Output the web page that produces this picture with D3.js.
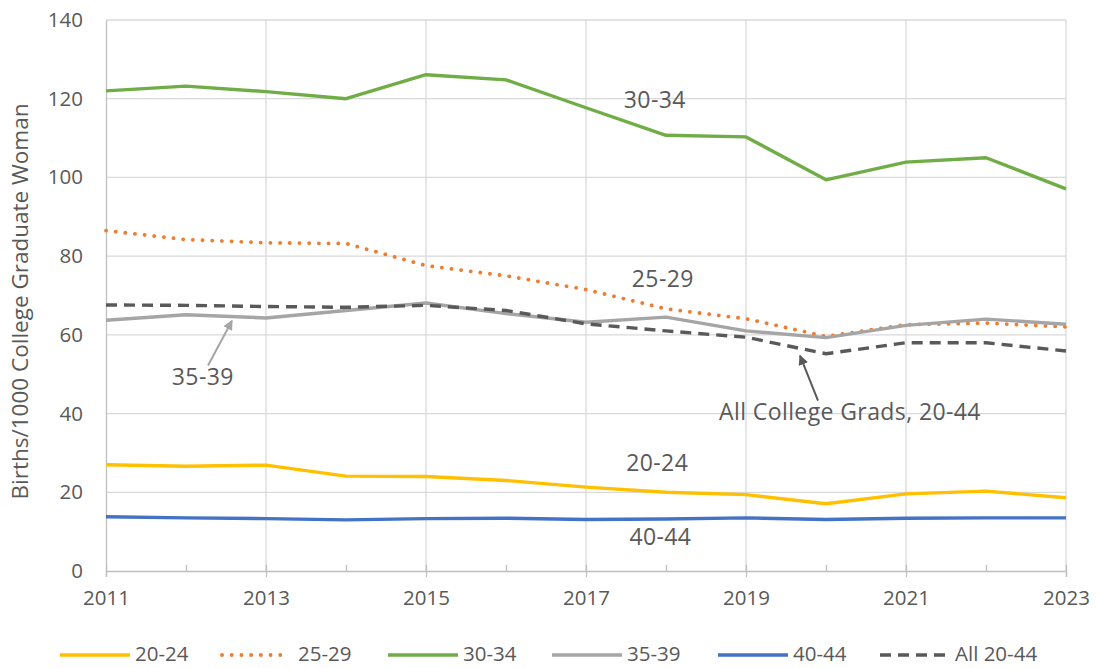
<!DOCTYPE html>
<html>
<head>
<meta charset="utf-8">
<script src="https://cdn.jsdelivr.net/npm/d3@7/dist/d3.min.js"></script>
<style>
  body { margin: 0; background: #fff; }
  text { font-family: "Open Sans", Roboto, sans-serif; fill: #595959; }
</style>
</head>
<body>
<svg id="chart" width="1097" height="668"></svg>
<script>
// data
const years = [2011, 2012, 2013, 2014, 2015, 2016, 2017, 2018, 2019, 2020, 2021, 2022, 2023]
const age2024 = [27.0, 26.6, 26.9, 24.1, 24.0, 23.0, 21.3, 20.0, 19.4, 17.1, 19.6, 20.3, 18.6]
const age2529 = [86.5, 84.2, 83.4, 83.2, 77.6, 75.0, 71.5, 66.6, 64.1, 59.6, 62.6, 63.0, 62.0]
const age3034 = [122.0, 123.2, 121.8, 120.0, 126.1, 124.8, 117.7, 110.7, 110.3, 99.4, 103.9, 105.0, 97.1]
const age3539 = [63.7, 65.1, 64.3, 66.2, 68.1, 65.4, 63.2, 64.5, 61.0, 59.3, 62.4, 64.0, 62.7]
const age4044 = [13.8, 13.5, 13.3, 13.0, 13.3, 13.4, 13.1, 13.2, 13.5, 13.1, 13.4, 13.5, 13.5]
const all2044 = [67.6, 67.5, 67.2, 67.0, 67.5, 66.2, 62.8, 61.0, 59.4, 55.2, 58.0, 58.0, 55.9]
const yTicks = [0, 20, 40, 60, 80, 100, 120, 140]
const xLabelYears = [2011, 2013, 2015, 2017, 2019, 2021, 2023]

const DOT = "0.1 9.6"
const series = [
  {name: "20-24", values: age2024, color: "#FFC000", dash: null},
  {name: "25-29", values: age2529, color: "#ED7D31", dash: DOT},
  {name: "30-34", values: age3034, color: "#70AD47", dash: null},
  {name: "35-39", values: age3539, color: "#A5A5A5", dash: null},
  {name: "40-44", values: age4044, color: "#4472C4", dash: null},
  {name: "All 20-44", values: all2044, color: "#595959", dash: "11 7"}
]

const svg = d3.select("#chart")
const margin = {left: 106, right: 30, top: 20, bottom: 97}
const width = 1097, height = 668

const x = d3.scaleLinear().domain([2011, 2023]).range([margin.left, width - margin.right - 1])
const y = d3.scaleLinear().domain([0, 140]).range([height - margin.bottom, margin.top])

// gridlines
svg.append("g")
  .selectAll("line").data(yTicks.filter(d => d > 0)).enter()
  .append("line")
  .attr("x1", x(2011)).attr("x2", x(2023))
  .attr("y1", d => y(d)).attr("y2", d => y(d))
  .attr("stroke", "#d9d9d9").attr("stroke-width", 1.3)

svg.append("g")
  .selectAll("line").data(xLabelYears.filter(d => d > 2011)).enter()
  .append("line")
  .attr("x1", d => x(d)).attr("x2", d => x(d))
  .attr("y1", y(0)).attr("y2", y(140))
  .attr("stroke", "#d9d9d9").attr("stroke-width", 1.3)

// axes
const yAxis = svg.append("g")
  .attr("transform", `translate(${x(2011)},0)`)
  .call(d3.axisLeft(y).tickValues(yTicks).tickSize(0).tickPadding(23))
yAxis.select(".domain").attr("stroke", "#bfbfbf").attr("stroke-width", 1.3)
yAxis.selectAll("text").attr("font-size", 20.5).attr("fill", "#595959")
  .style("font-family", "'Open Sans', sans-serif")

const xAxis = svg.append("g")
  .attr("transform", `translate(0,${y(0)})`)
  .call(d3.axisBottom(x).tickValues(years).tickSize(6).tickFormat(d => xLabelYears.includes(d) ? d : ""))
xAxis.select(".domain").attr("stroke", "#bfbfbf").attr("stroke-width", 1.3)
xAxis.selectAll(".tick line").attr("stroke", "#bfbfbf").attr("stroke-width", 1.3)
  .attr("y1", -6).attr("y2", d => xLabelYears.includes(d) ? 6 : 0)
xAxis.selectAll("text").attr("font-size", 20.5).attr("fill", "#595959").attr("dy", "1.2em")
  .style("font-family", "'Open Sans', sans-serif")

// axis title
svg.append("text")
  .attr("transform", `translate(22,${(y(0) + y(140)) / 2 + 6}) rotate(-90)`)
  .attr("text-anchor", "middle")
  .attr("dominant-baseline", "middle")
  .attr("font-size", 22.5)
  .text("Births/1000 College Graduate Woman")

// lines
const line = d3.line().x((d, i) => x(years[i])).y(d => y(d))
svg.append("g").selectAll("path").data(series).enter()
  .append("path")
  .attr("d", d => line(d.values))
  .attr("fill", "none")
  .attr("stroke", d => d.color)
  .attr("stroke-width", d => d.dash === DOT ? 3.8 : 3.4)
  .attr("stroke-linecap", d => d.dash === DOT ? "round" : "butt")
  .attr("stroke-linejoin", "round")
  .attr("stroke-dasharray", d => d.dash)

// annotations
const labels = [
  {text: "30-34", yr: 2017.86, v: 119.1},
  {text: "25-29", yr: 2017.96, v: 73.8},
  {text: "35-39", yr: 2012.21, v: 48.9},
  {text: "All College Grads, 20-44", yr: 2020.3, v: 40.0},
  {text: "20-24", yr: 2017.89, v: 27.0},
  {text: "40-44", yr: 2017.93, v: 8.2}
]
svg.append("g").selectAll("text").data(labels).enter()
  .append("text")
  .attr("x", d => x(d.yr)).attr("y", d => y(d.v))
  .attr("text-anchor", "middle")
  .attr("dominant-baseline", "middle")
  .attr("font-size", 23)
  .attr("letter-spacing", 0.4)
  .text(d => d.text)

// arrows
const defs = svg.append("defs")
function marker(id, color) {
  defs.append("marker").attr("id", id)
    .attr("viewBox", "0 0 10 10").attr("refX", 9).attr("refY", 5)
    .attr("markerWidth", 5).attr("markerHeight", 5).attr("orient", "auto")
    .attr("markerUnits", "strokeWidth")
    .append("path").attr("d", "M0,0 L10,5 L0,10 z").attr("fill", color)
}
marker("arrGrey", "#A5A5A5")
marker("arrDark", "#595959")
const arrows = [
  {x1: 2012.275, v1: 52.2, x2: 2012.575, v2: 63.6, color: "#A5A5A5", m: "arrGrey"},
  {x1: 2019.9, v1: 43.3, x2: 2019.675, v2: 54.7, color: "#595959", m: "arrDark"}
]
svg.append("g").selectAll("line").data(arrows).enter()
  .append("line")
  .attr("x1", d => x(d.x1)).attr("y1", d => y(d.v1))
  .attr("x2", d => x(d.x2)).attr("y2", d => y(d.v2))
  .attr("stroke", d => d.color).attr("stroke-width", 2)
  .attr("marker-end", d => `url(#${d.m})`)

// legend
const legendX = [60, 222, 388, 552, 718, 880]
const legend = svg.append("g").selectAll("g").data(series).enter()
  .append("g")
  .attr("transform", (d, i) => `translate(${legendX[i]},655)`)
legend.append("line")
  .attr("x1", 0).attr("x2", d => d.dash === DOT ? 64 : 70)
  .attr("stroke", d => d.color)
  .attr("stroke-width", d => d.dash === DOT ? 3.8 : 3.4)
  .attr("stroke-linecap", d => d.dash === DOT ? "round" : "butt")
  .attr("stroke-dasharray", d => d.dash)
legend.append("text")
  .attr("x", d => d.dash === DOT ? 76 : 75).attr("y", 1)
  .attr("dominant-baseline", "middle")
  .attr("font-size", 20.5)
  .text(d => d.name)
</script>
</body>
</html>
